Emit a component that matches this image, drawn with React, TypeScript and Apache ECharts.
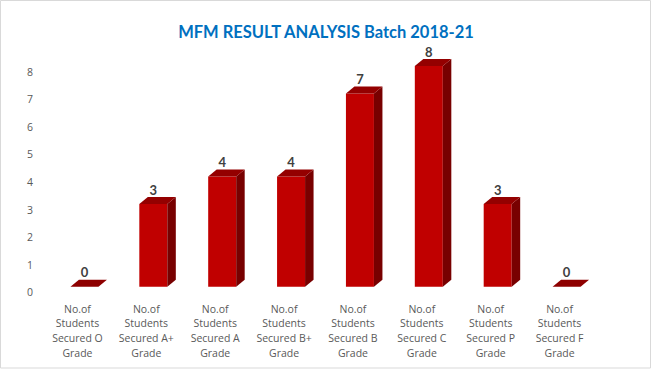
import React, { useEffect, useRef } from "react";
import * as echarts from "echarts";

const categories = [
  "No.of\nStudents\nSecured O\nGrade",
  "No.of\nStudents\nSecured A+\nGrade",
  "No.of\nStudents\nSecured A\nGrade",
  "No.of\nStudents\nSecured B+\nGrade",
  "No.of\nStudents\nSecured B\nGrade",
  "No.of\nStudents\nSecured C\nGrade",
  "No.of\nStudents\nSecured P\nGrade",
  "No.of\nStudents\nSecured F\nGrade",
];
const values = [0, 3, 4, 4, 7, 8, 3, 0];
const titleText = "MFM RESULT ANALYSIS Batch 2018-21";

export default function App() {
  const ref = useRef<HTMLDivElement>(null);
  useEffect(() => {
    if (!ref.current) return;
    const chart = echarts.init(ref.current, null, { renderer: "svg" });
    const FRONT = "#C00000";
    const TOP = "#940000";
    const SIDE = "#780000";
    const option: any = {
      animation: false,
      backgroundColor: "#fff",
      title: {
        text: titleText,
        left: "center",
        top: 18,
        textStyle: {
          fontFamily: "Lato",
          fontWeight: "bold",
          fontSize: 16.5,
          color: "#0070C0",
        },
      },
      graphic: [
        {
          type: "rect",
          shape: { x: 0.5, y: 0.5, width: 650, height: 367.5 },
          style: { fill: "none", stroke: "#D9D9D9", lineWidth: 1 },
          silent: true,
        },
      ],
      grid: { left: 43, right: 58, top: 71.5, bottom: 77.7, containLabel: false },
      xAxis: {
        type: "category",
        data: categories,
        axisLine: { show: false },
        axisTick: { show: false },
        axisLabel: {
          interval: 0,
          margin: 9,
          fontFamily: "Open Sans",
          fontSize: 10.5,
          lineHeight: 14.7,
          color: "#595959",
        },
      },
      yAxis: {
        type: "value",
        min: 0,
        max: 8,
        interval: 1,
        splitLine: { show: false },
        axisLine: { show: false },
        axisTick: { show: false },
        axisLabel: {
          margin: 10,
          fontFamily: "Open Sans",
          fontSize: 10.5,
          color: "#595959",
        },
      },
      series: [
        {
          type: "custom",
          data: values.map((v, i) => [i, v]),
          encode: { x: 0, y: 1 },
          renderItem: (params: any, api: any) => {
            const idx = api.value(0);
            const v = api.value(1);
            const base = api.coord([idx, 0]);
            const topP = api.coord([idx, v]);
            const off = 5.5;
            const cx = base[0] + 7;
            const w = 28;
            const dx = 8.5;
            const dy = 7;
            const y0 = base[1] - off;
            const y1 = topP[1] - off;
            const fl = cx - w / 2;
            const fr = cx + w / 2;
            const children: any[] = [];
            if (y0 - y1 > 0.1) {
              children.push({
                type: "rect",
                shape: { x: fl, y: y1, width: w, height: y0 - y1 },
                style: { fill: FRONT },
              });
              children.push({
                type: "polygon",
                shape: {
                  points: [
                    [fr, y1],
                    [fr + dx, y1 - dy],
                    [fr + dx, y0 - dy],
                    [fr, y0],
                  ],
                },
                style: { fill: SIDE },
              });
            }
            children.push({
              type: "polygon",
              shape: {
                points: [
                  [fl, y1],
                  [fr, y1],
                  [fr + dx, y1 - dy],
                  [fl + dx, y1 - dy],
                ],
              },
              style: { fill: y0 - y1 > 0.1 ? TOP : "#8E0000" },
            });
            children.push({
              type: "text",
              style: {
                x: cx,
                y: y1 - 14.5,
                text: String(v),
                align: "center",
                verticalAlign: "middle",
                fontFamily: "Lato",
                fontWeight: "bold",
                fontSize: 13,
                fill: "#404040",
              },
            });
            return { type: "group", children };
          },
        },
      ],
    };
    chart.setOption(option);
    return () => chart.dispose();
  }, []);
  return (
    <div
      ref={ref}
      style={{ position: "fixed", left: 0, top: 0, width: 652, height: 370 }}
    />
  );
}
